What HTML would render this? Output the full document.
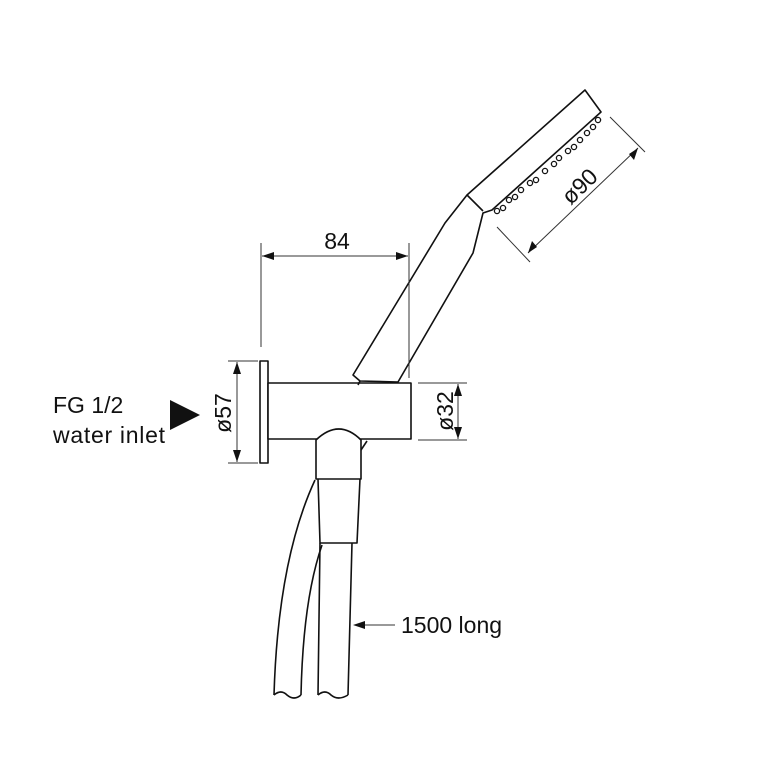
<!DOCTYPE html>
<html><head><style>body{margin:0;background:#fff}svg{display:block}</style></head><body>
<svg width="768" height="768" viewBox="0 0 768 768" xmlns="http://www.w3.org/2000/svg" font-family="Liberation Sans, sans-serif">
<g fill="none" stroke="#111" stroke-width="1.6" stroke-linejoin="round">
<rect x="260" y="361" width="8" height="102" fill="#fff"/>
<rect x="268" y="383" width="143" height="56" fill="#fff"/>
<path d="M353,375 L445,223 L467,195 L585,90 L601,112 L492,210 L483,213 L473,253 L398,382 L360,381 L353,375Z" fill="#fff"/>
<path d="M467,195 L483,211"/>
<path d="M360,381 L358,385"/>
<path d="M316,440 Q339,418 361,440 L361,479 L316,479 Z" fill="#fff"/>
<path d="M361,450 L367,441"/>
<path d="M318,479 L320,543 L357,543 L360,479"/>
<path d="M320,543 L318,695 M352,543 L348,695"/>
<path d="M315,480 Q278,560 274,695 M322,545 Q303,600 301,695"/>
<path d="M274,695 q7,-6 13,0 q7,6 14,0 M318,695 q7,-6 13,0 q7,6 17,0"/>
</g>
<g stroke="#111" stroke-width="1.3" fill="#fff">
<circle cx="497" cy="211" r="2.6"/><circle cx="503" cy="208" r="2.6"/><circle cx="509" cy="200" r="2.6"/><circle cx="515" cy="197" r="2.6"/><circle cx="521" cy="190" r="2.6"/><circle cx="530" cy="183" r="2.6"/><circle cx="536" cy="180" r="2.6"/><circle cx="545" cy="171" r="2.6"/><circle cx="554" cy="164" r="2.6"/><circle cx="559" cy="158" r="2.6"/><circle cx="568" cy="151" r="2.6"/><circle cx="574" cy="147" r="2.6"/><circle cx="580" cy="140" r="2.6"/><circle cx="587" cy="133" r="2.6"/><circle cx="593" cy="127" r="2.6"/><circle cx="598" cy="120" r="2.6"/>
</g>
<g stroke="#333" stroke-width="1" fill="none">
<path d="M261,243 V347 M409,243 V378 M262,256 H408"/>
<path d="M497,227 L530,262 M610,117 L645,152 M528,253 L638,148"/>
<path d="M418,383 H467 M418,440 H467 M458,384 V439"/>
<path d="M228,361 H258 M228,463 H258 M237,362 V462"/>
<path d="M355,625 H395"/>
</g>
<g fill="#111">
<path d="M262,256 l12,-4 v8z M408,256 l-12,-4 v8z"/>
<path d="M528,253 l4,-12 l5,6z M638,148 l-4,12 l-5,-6z"/>
<path d="M458,384 l-4,12 h8z M458,439 l-4,-12 h8z"/>
<path d="M237,362 l-4,12 h8z M237,462 l-4,-12 h8z"/>
<path d="M353,625 l12,-4 v8z"/>
<path d="M170,400 L200,415 L170,430Z"/>
</g>
<g font-size="23" fill="#111">
<text x="337" y="249" text-anchor="middle">84</text>
<text transform="translate(585,192) rotate(-44)" text-anchor="middle">ø90</text>
<text transform="translate(453,411) rotate(-90)" text-anchor="middle">ø32</text>
<text transform="translate(231,413) rotate(-90)" text-anchor="middle">ø57</text>
<text x="53" y="413">FG 1/2</text>
<text x="53" y="443" textLength="112">water inlet</text>
<text x="401" y="633">1500 long</text>
</g>
</svg>
</body></html>
